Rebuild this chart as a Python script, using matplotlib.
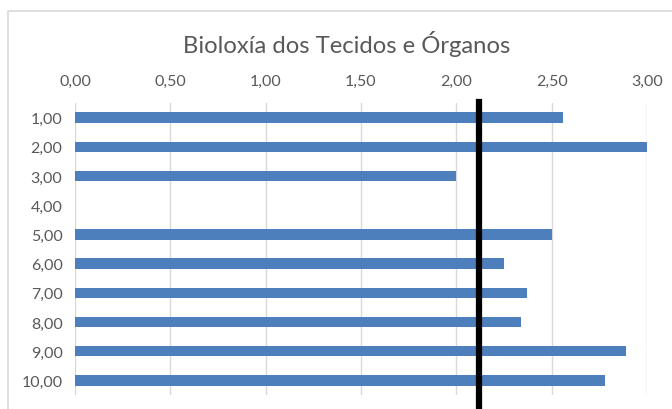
import matplotlib
matplotlib.use("Agg")
import matplotlib.pyplot as plt
from matplotlib.patches import Rectangle

categories = ["1,00", "2,00", "3,00", "4,00", "5,00", "6,00", "7,00", "8,00", "9,00", "10,00"]
values = [2.56, 3.00, 2.00, 0.0, 2.50, 2.25, 2.37, 2.34, 2.89, 2.78]
reference_value = 2.12
xticks = [0.0, 0.5, 1.0, 1.5, 2.0, 2.5, 3.0]
xtick_labels = ["0,00", "0,50", "1,00", "1,50", "2,00", "2,50", "3,00"]
title = "Bioloxía dos Tecidos e Órganos"

plt.rcParams['font.family'] = ['Lato', 'DejaVu Sans']

W, H = 672, 410
fig = plt.figure(figsize=(W / 100, H / 100), dpi=100)

# figure border
fig.patches.append(Rectangle((7.5 / W, -0.1), 1.2, 1 - 12 / H + 0.1, transform=fig.transFigure,
                             fill=False, edgecolor='#D9D9D9', linewidth=1.2))

left, right, top, bottom = 75 / W, 647 / W, 104 / H, 396 / H
ax = fig.add_axes([left, 1 - bottom, right - left, bottom - top])

ypos = list(range(len(categories)))
ax.barh(ypos, values, height=0.36, color='#4E7FBD', linewidth=0, zorder=3)

ax.set_xlim(0, 3.0)
ax.set_ylim(len(categories) - 0.5, -0.5)
ax.set_yticks(ypos)
ax.set_yticklabels(categories)
ax.set_xticks(xticks)
ax.set_xticklabels(xtick_labels)
ax.xaxis.tick_top()
ax.tick_params(axis='both', length=0, labelsize=11.5, labelcolor='#595959')
ax.tick_params(axis='x', pad=11)
ax.tick_params(axis='y', pad=9)
ax.grid(axis='x', color='#D9D9D9', linewidth=1.0, zorder=0)
for s in ax.spines.values():
    s.set_visible(False)

ax.axvline(reference_value, ymin=-12 / 292, ymax=1 + 1 / 292, color='black', linewidth=4.5,
           clip_on=False, zorder=5)

fig.text(0.5 * (183 + 510) / W, 1 - 44 / H, title, ha='center', va='center',
         fontsize=17.2, color='#595959')

fig.savefig("out.png", dpi=100)
